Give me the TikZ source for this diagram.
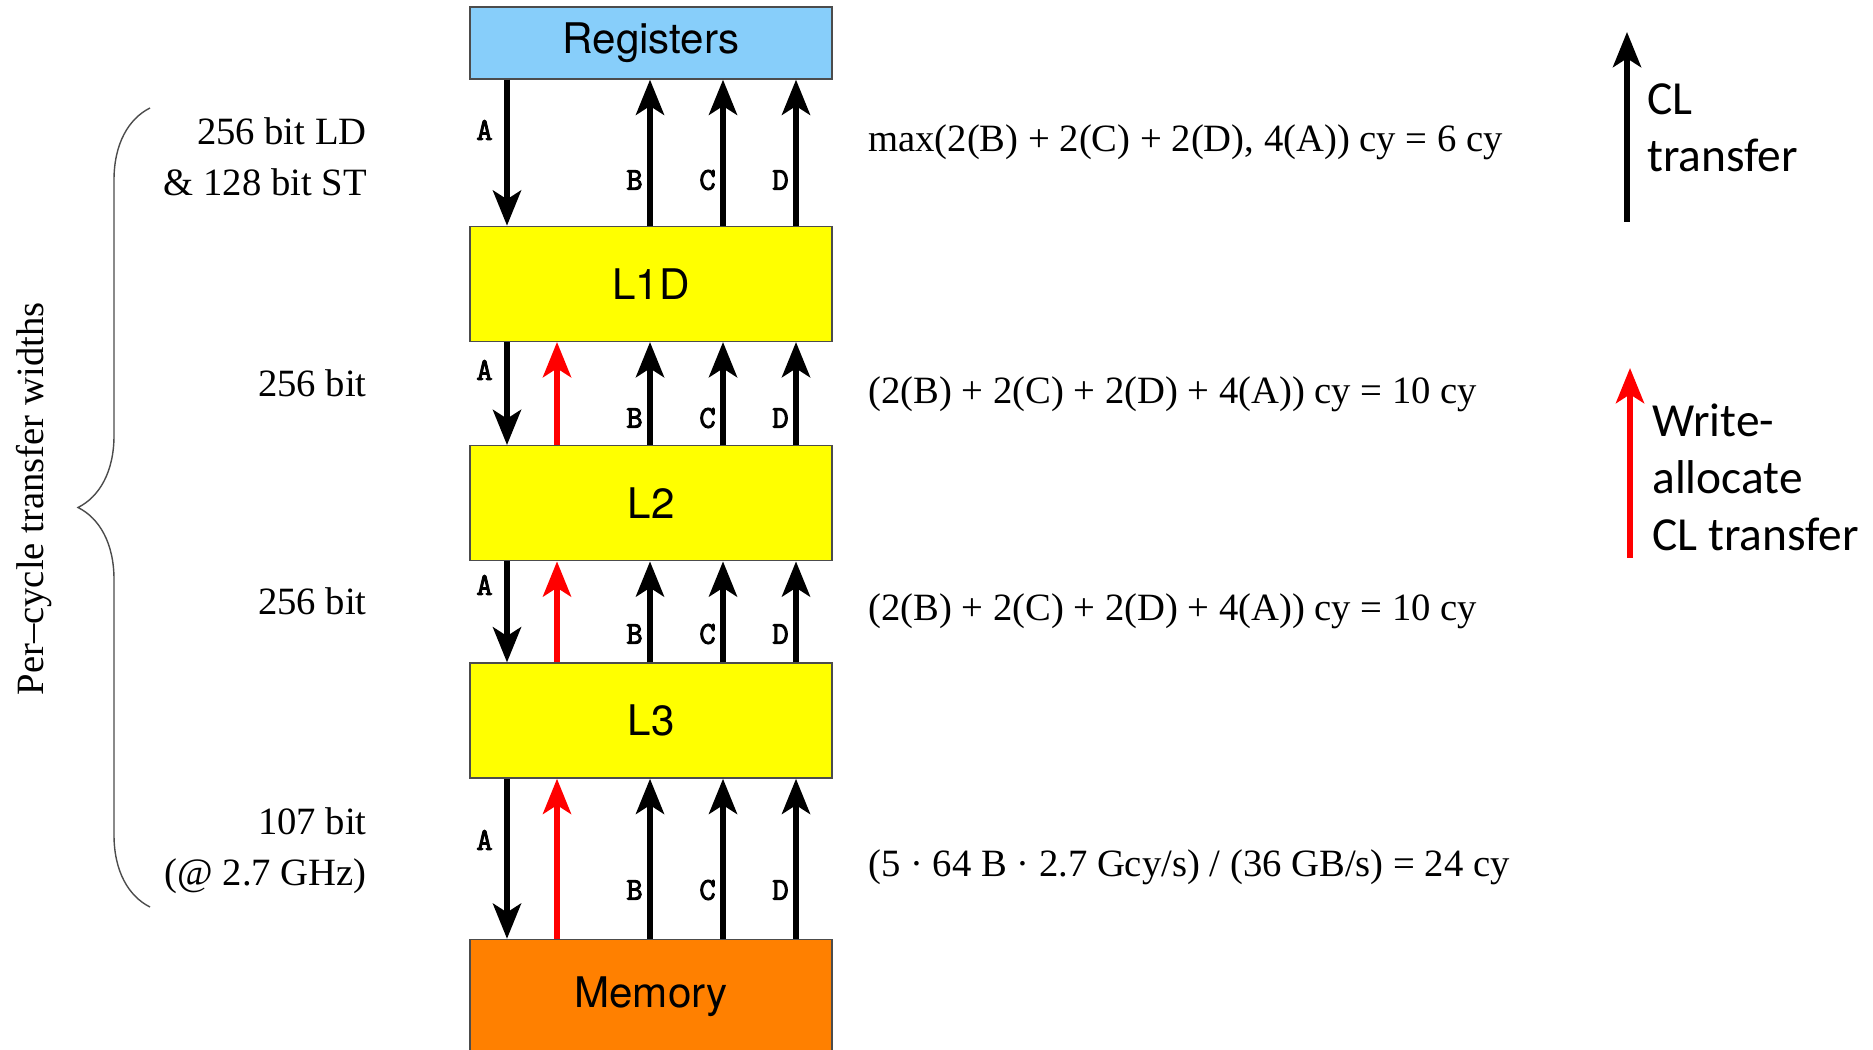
\documentclass[tikz,border=0pt]{standalone}
\usepackage{fontspec}
\setmainfont{Liberation Serif}
\newfontfamily\levelfont{TeX Gyre Heros}
\newfontfamily\tagfont{Latin Modern Mono}[FakeBold=3]
\newfontfamily\notefont{Carlito}
\usetikzlibrary{arrows.meta,positioning,calc,decorations.pathreplacing}
\definecolor{regBlue}{HTML}{87CEFA}
\definecolor{cacheYellow}{HTML}{FFFF00}
\definecolor{memOrange}{HTML}{FF8000}
\definecolor{waRed}{HTML}{FF0000}
\newcommand{\serifsize}{\fontsize{22}{29}\selectfont}

\begin{document}
\begin{tikzpicture}[x=0.02cm,y=-0.02cm,
  level/.style={draw=black!70,line width=0.8pt,minimum width=7.24cm,minimum height=2.3cm,
    inner sep=0pt,font=\levelfont\fontsize{24}{28}\selectfont},
  flow/.style={line width=3.2pt,-{Stealth[length=20pt,width=16pt,inset=5pt]}},
  waflow/.style={flow,waRed},
  tag/.style={font=\tagfont\fontsize{18}{18}\selectfont,inner sep=0pt,anchor=east},
  side/.style={font=\serifsize,align=right,inner sep=0pt},
  cost/.style={font=\serifsize,inner sep=0pt,anchor=base west},
  note/.style={font=\notefont\fontsize{27}{32.4}\selectfont,align=left,inner sep=0pt,anchor=north west}]
\useasboundingbox (0,0) rectangle (1873,1050);

% memory hierarchy
\node[level,fill=regBlue,minimum height=1.44cm] (reg) at (651,43) {Registers};
\node[level,fill=cacheYellow,below=2.92cm of reg] (l1d) {L1D};
\node[level,fill=cacheYellow,below=2.06cm of l1d] (l2) {L2};
\node[level,fill=cacheYellow,below=2.02cm of l2] (l3) {L3};
\node[level,fill=memOrange,below=3.2cm of l3] (mem) {Memory};

% streams between levels
\coordinate (colA) at (507,0);
\coordinate (colW) at (557,0);
\coordinate (colB) at (650,0);
\coordinate (colC) at (723,0);
\coordinate (colD) at (796,0);
\foreach \up/\dn/\ya/\yb [count=\i] in {reg/l1d/130/180,l1d/l2/370/418,l2/l3/585/634,l3/mem/840/890}{
  \draw[flow] (\up.south -| colA) -- (\dn.north -| colA);
  \foreach \c in {B,C,D}
    \draw[flow] (\dn.north -| col\c) -- (\up.south -| col\c);
  \ifnum\i>1 \draw[waflow] (\dn.north -| colW) -- (\up.south -| colW); \fi
  \node[tag] (tagA\i) at (493,\ya) {A};
  \node[tag] (tagB\i) at (643,\yb) {B};
  \node[tag] (tagC\i) at (716,\yb) {C};
  \node[tag] (tagD\i) at (789,\yb) {D};
}

% transfer widths
\node[side,anchor=north east] (ldstWidth) at (367,117) {256 bit LD\\\& 128 bit ST};
\node[side,anchor=base east] (l2Width) at (367,397) {256 bit};
\node[side,anchor=base east] (l3Width) at (367,614) {256 bit};
\node[side,anchor=north east] (memWidth) at (367,807) {107 bit\\(@ 2.7 GHz)};
\coordinate (braceLow) at (150,907);
\coordinate (braceHigh) at (150,108);
\draw[black!70,line width=0.8pt,decorate,decoration={brace,amplitude=1.44cm}] (braceLow) -- (braceHigh);
\node[rotate=90,anchor=base,font=\serifsize] (widthsTitle) at (43,499) {Per--cycle transfer widths};

% cycle counts
\node[cost] (l1dCost) at (868,152) {max(2(B) + 2(C) + 2(D), 4(A)) cy = 6 cy};
\node[cost] (l2Cost) at (868,404) {(2(B) + 2(C) + 2(D) + 4(A)) cy = 10 cy};
\node[cost] (l3Cost) at (868,621) {(2(B) + 2(C) + 2(D) + 4(A)) cy = 10 cy};
\node[cost] (memCost) at (868,876) {(5 · 64 B · 2.7 Gcy/s) / (36 GB/s) = 24 cy};

% legend
\coordinate (clFoot) at (1627,222);
\coordinate (clTip) at (1627,32);
\draw[flow] (clFoot) -- (clTip);
\node[note] (clNote) at (1647,83) {CL\\transfer};
\coordinate (waFoot) at (1630,558);
\coordinate (waTip) at (1630,368);
\draw[waflow] (waFoot) -- (waTip);
\node[note] (waNote) at (1652,404) {Write-\\allocate\\CL transfer};
\end{tikzpicture}
\end{document}
